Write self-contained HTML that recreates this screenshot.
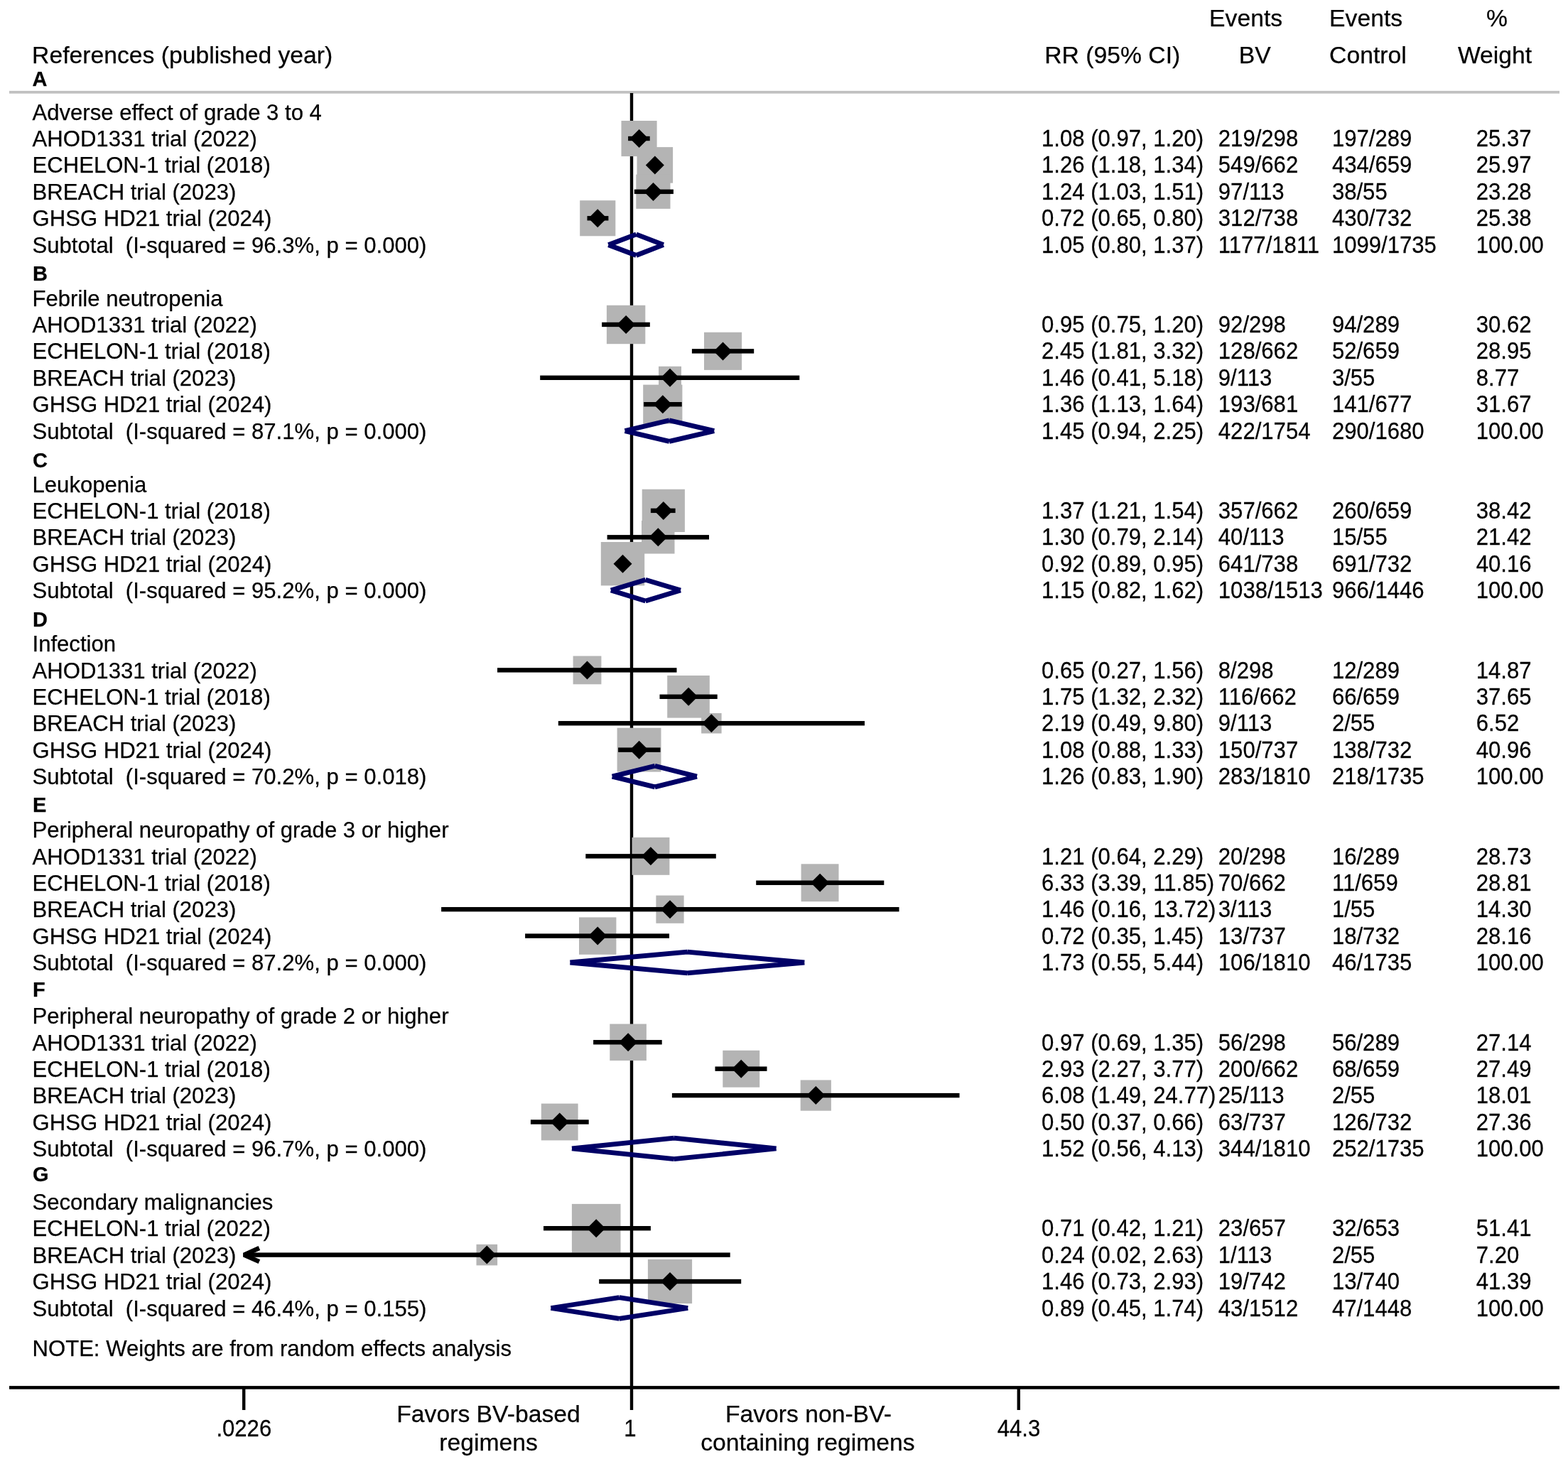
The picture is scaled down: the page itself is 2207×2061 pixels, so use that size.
<!DOCTYPE html>
<html><head><meta charset="utf-8"><title>Forest plot</title>
<style>
html,body{margin:0;padding:0;background:#fff;}
svg{display:block;}
text{font-family:"Liberation Sans",Arial,Helvetica,sans-serif;fill:#000;stroke:#000;stroke-width:0.25px;}
.T{font-size:31.1px;}
.H{font-size:33.7px;}
.L{font-size:29px;font-weight:bold;}
.X{font-size:31.1px;}
.F{font-size:33.7px;}
</style></head><body>
<svg width="2207" height="2061" viewBox="0 0 2207 2061">
<rect x="0" y="0" width="2207" height="2061" fill="#fff"/>
<text class="H" x="1702.1" y="37.0">Events</text>
<text class="H" x="1871.1" y="37.0">Events</text>
<text class="H" x="2092.1" y="37.0">%</text>
<text class="H" x="45.1" y="89.0">References (published year)</text>
<text class="H" x="1470.3" y="89.0">RR (95% CI)</text>
<text class="H" x="1743.7" y="89.0">BV</text>
<text class="H" x="1871.1" y="89.0">Control</text>
<text class="H" x="2051.9" y="89.0">Weight</text>
<text class="L" x="45.6" y="120.6">A</text>
<rect x="13" y="127.9" width="2182" height="3.8" fill="#c0c0c0"/>
<rect x="886.8" y="131" width="4.4" height="1822" fill="#000"/>
<g fill="#b4b4b4">
<rect x="874.5" y="170.0" width="50.1" height="50.1"/>
<rect x="896.5" y="207.1" width="50.6" height="50.6"/>
<rect x="895.3" y="245.7" width="48.2" height="48.2"/>
<rect x="816.2" y="282.2" width="50.1" height="50.1"/>
<rect x="853.9" y="429.8" width="54.4" height="54.4"/>
<rect x="991.0" y="467.8" width="53.1" height="53.1"/>
<rect x="927.0" y="515.8" width="32.0" height="32.0"/>
<rect x="905.2" y="541.6" width="55.2" height="55.2"/>
<rect x="903.7" y="688.8" width="60.2" height="60.2"/>
<rect x="903.0" y="733.0" width="46.5" height="46.5"/>
<rect x="845.8" y="763.0" width="61.4" height="61.4"/>
<rect x="806.6" y="923.5" width="39.8" height="39.8"/>
<rect x="939.2" y="951.0" width="59.6" height="59.6"/>
<rect x="987.1" y="1004.0" width="28.5" height="28.5"/>
<rect x="868.6" y="1024.7" width="61.9" height="61.9"/>
<rect x="889.5" y="1178.9" width="52.9" height="52.9"/>
<rect x="1127.6" y="1216.3" width="52.9" height="52.9"/>
<rect x="923.4" y="1260.6" width="39.2" height="39.2"/>
<rect x="815.0" y="1291.4" width="52.4" height="52.4"/>
<rect x="858.3" y="1441.5" width="51.6" height="51.6"/>
<rect x="1017.3" y="1478.8" width="51.9" height="51.9"/>
<rect x="1126.7" y="1520.5" width="43.2" height="43.2"/>
<rect x="761.8" y="1553.6" width="51.8" height="51.8"/>
<rect x="804.9" y="1694.9" width="68.6" height="68.6"/>
<rect x="670.5" y="1751.8" width="29.6" height="29.6"/>
<rect x="911.9" y="1772.9" width="62.2" height="62.2"/>
</g>
<g fill="#000">
<rect x="884.1" y="191.82" width="30.6" height="6.4"/>
<rect x="912.3" y="229.24" width="18.3" height="6.4"/>
<rect x="892.8" y="266.66" width="55.1" height="6.4"/>
<rect x="826.5" y="304.08" width="29.9" height="6.4"/>
<rect x="847.1" y="453.75" width="67.7" height="6.4"/>
<rect x="973.9" y="491.17" width="87.3" height="6.4"/>
<rect x="760.2" y="528.59" width="365.1" height="6.4"/>
<rect x="906.1" y="566.01" width="53.6" height="6.4"/>
<rect x="915.9" y="715.68" width="34.7" height="6.4"/>
<rect x="854.6" y="753.10" width="143.4" height="6.4"/>
<rect x="871.7" y="790.52" width="9.4" height="6.4"/>
<rect x="700.0" y="940.20" width="252.5" height="6.4"/>
<rect x="928.5" y="977.62" width="81.2" height="6.4"/>
<rect x="785.8" y="1015.04" width="431.2" height="6.4"/>
<rect x="870.1" y="1052.46" width="59.4" height="6.4"/>
<rect x="824.3" y="1202.13" width="183.5" height="6.4"/>
<rect x="1064.2" y="1239.55" width="180.1" height="6.4"/>
<rect x="621.1" y="1276.97" width="644.4" height="6.4"/>
<rect x="739.1" y="1314.39" width="202.9" height="6.4"/>
<rect x="835.1" y="1464.06" width="96.6" height="6.4"/>
<rect x="1006.5" y="1501.48" width="73.0" height="6.4"/>
<rect x="945.9" y="1538.90" width="404.6" height="6.4"/>
<rect x="746.9" y="1576.32" width="81.8" height="6.4"/>
<rect x="765.0" y="1726.00" width="150.9" height="6.4"/>
<rect x="345.0" y="1763.42" width="682.7" height="6.4"/>
<rect x="843.2" y="1800.84" width="200.0" height="6.4"/>
<polygon points="899.6,182.0 912.6,195.0 899.6,208.0 886.6,195.0"/>
<polygon points="921.8,219.4 934.8,232.4 921.8,245.4 908.8,232.4"/>
<polygon points="919.5,256.9 932.5,269.9 919.5,282.9 906.5,269.9"/>
<polygon points="841.2,294.3 854.2,307.3 841.2,320.3 828.2,307.3"/>
<polygon points="881.1,444.0 894.1,457.0 881.1,470.0 868.1,457.0"/>
<polygon points="1017.5,481.4 1030.5,494.4 1017.5,507.4 1004.5,494.4"/>
<polygon points="943.0,518.8 956.0,531.8 943.0,544.8 930.0,531.8"/>
<polygon points="932.8,556.2 945.8,569.2 932.8,582.2 919.8,569.2"/>
<polygon points="933.8,705.9 946.8,718.9 933.8,731.9 920.8,718.9"/>
<polygon points="926.3,743.3 939.3,756.3 926.3,769.3 913.3,756.3"/>
<polygon points="876.5,780.7 889.5,793.7 876.5,806.7 863.5,793.7"/>
<polygon points="826.5,930.4 839.5,943.4 826.5,956.4 813.5,943.4"/>
<polygon points="969.1,967.8 982.1,980.8 969.1,993.8 956.1,980.8"/>
<polygon points="1001.3,1005.2 1014.3,1018.2 1001.3,1031.2 988.3,1018.2"/>
<polygon points="899.6,1042.7 912.6,1055.7 899.6,1068.7 886.6,1055.7"/>
<polygon points="915.9,1192.3 928.9,1205.3 915.9,1218.3 902.9,1205.3"/>
<polygon points="1154.1,1229.8 1167.1,1242.8 1154.1,1255.8 1141.1,1242.8"/>
<polygon points="943.0,1267.2 956.0,1280.2 943.0,1293.2 930.0,1280.2"/>
<polygon points="841.2,1304.6 854.2,1317.6 841.2,1330.6 828.2,1317.6"/>
<polygon points="884.1,1454.3 897.1,1467.3 884.1,1480.3 871.1,1467.3"/>
<polygon points="1043.2,1491.7 1056.2,1504.7 1043.2,1517.7 1030.2,1504.7"/>
<polygon points="1148.3,1529.1 1161.3,1542.1 1148.3,1555.1 1135.3,1542.1"/>
<polygon points="787.7,1566.5 800.7,1579.5 787.7,1592.5 774.7,1579.5"/>
<polygon points="839.2,1716.2 852.2,1729.2 839.2,1742.2 826.2,1729.2"/>
<polygon points="685.3,1753.6 698.3,1766.6 685.3,1779.6 672.3,1766.6"/>
<polygon points="943.0,1791.0 956.0,1804.0 943.0,1817.0 930.0,1804.0"/>
</g>
<path d="M 364.9 1757.0 L 343.4 1766.6 L 364.9 1776.2" fill="none" stroke="#000" stroke-width="6.4" stroke-linejoin="bevel"/>
<g fill="none" stroke="#000066" stroke-width="6.8" stroke-linecap="butt">
<path d="M856.4 344.7L895.5 329.9M895.5 329.9L933.8 344.7M856.4 344.7L895.5 359.5M895.5 359.5L933.8 344.7"/>
<path d="M879.6 606.6L942.0 591.8M942.0 591.8L1005.2 606.6M879.6 606.6L942.0 621.4M942.0 621.4L1005.2 606.6"/>
<path d="M859.9 831.1L908.6 816.3M908.6 816.3L957.9 831.1M859.9 831.1L908.6 845.9M908.6 845.9L957.9 831.1"/>
<path d="M861.7 1093.1L921.8 1078.3M921.8 1078.3L980.9 1093.1M861.7 1093.1L921.8 1107.9M921.8 1107.9L980.9 1093.1"/>
<path d="M802.4 1355.0L967.4 1340.2M967.4 1340.2L1132.3 1355.0M802.4 1355.0L967.4 1369.8M967.4 1369.8L1132.3 1355.0"/>
<path d="M805.0 1616.9L948.8 1602.1M948.8 1602.1L1092.6 1616.9M805.0 1616.9L948.8 1631.7M948.8 1631.7L1092.6 1616.9"/>
<path d="M775.4 1841.5L871.7 1826.7M871.7 1826.7L968.2 1841.5M775.4 1841.5L871.7 1856.3M871.7 1856.3L968.2 1841.5"/>
</g>
<rect x="13" y="1951.1" width="2182" height="4.6" fill="#000"/>
<rect x="341.0" y="1953" width="4.4" height="32" fill="#000"/>
<rect x="886.8" y="1953" width="4.4" height="32" fill="#000"/>
<rect x="1431.6" y="1953" width="4.4" height="32" fill="#000"/>
<text class="X" transform="translate(343.3 2021.7) scale(1 1.04)" text-anchor="middle">.0226</text>
<text class="X" transform="translate(887 2021.7) scale(1 1.04)" text-anchor="middle">1</text>
<text class="X" transform="translate(1434 2021.7) scale(1 1.04)" text-anchor="middle">44.3</text>
<text class="F" x="687.5" y="2002" text-anchor="middle">Favors BV-based</text>
<text class="F" x="687.5" y="2042.2" text-anchor="middle">regimens</text>
<text class="F" x="1137.9" y="2001.5" text-anchor="middle">Favors non-BV-</text>
<text class="F" x="1136.9" y="2041.7" text-anchor="middle">containing regimens</text>
<text class="T" x="45.5" y="168.6">Adverse effect of grade 3 to 4</text>
<text class="T" x="45.5" y="206.0">AHOD1331 trial (2022)</text>
<text class="T" transform="translate(1466.0 206.0) scale(1 1.04)">1.08 (0.97, 1.20)</text>
<text class="T" transform="translate(1714.8 206.0) scale(1 1.04)">219/298</text>
<text class="T" transform="translate(1874.9 206.0) scale(1 1.04)">197/289</text>
<text class="T" transform="translate(2077.7 206.0) scale(1 1.04)">25.37</text>
<text class="T" x="45.5" y="243.4">ECHELON-1 trial (2018)</text>
<text class="T" transform="translate(1466.0 243.4) scale(1 1.04)">1.26 (1.18, 1.34)</text>
<text class="T" transform="translate(1714.8 243.4) scale(1 1.04)">549/662</text>
<text class="T" transform="translate(1874.9 243.4) scale(1 1.04)">434/659</text>
<text class="T" transform="translate(2077.7 243.4) scale(1 1.04)">25.97</text>
<text class="T" x="45.5" y="280.9">BREACH trial (2023)</text>
<text class="T" transform="translate(1466.0 280.9) scale(1 1.04)">1.24 (1.03, 1.51)</text>
<text class="T" transform="translate(1714.8 280.9) scale(1 1.04)">97/113</text>
<text class="T" transform="translate(1874.9 280.9) scale(1 1.04)">38/55</text>
<text class="T" transform="translate(2077.7 280.9) scale(1 1.04)">23.28</text>
<text class="T" x="45.5" y="318.3">GHSG HD21 trial (2024)</text>
<text class="T" transform="translate(1466.0 318.3) scale(1 1.04)">0.72 (0.65, 0.80)</text>
<text class="T" transform="translate(1714.8 318.3) scale(1 1.04)">312/738</text>
<text class="T" transform="translate(1874.9 318.3) scale(1 1.04)">430/732</text>
<text class="T" transform="translate(2077.7 318.3) scale(1 1.04)">25.38</text>
<text class="T" x="45.5" y="355.7">Subtotal&#160; (I-squared = 96.3%, p = 0.000)</text>
<text class="T" transform="translate(1466.0 355.7) scale(1 1.04)">1.05 (0.80, 1.37)</text>
<text class="T" transform="translate(1714.8 355.7) scale(1 1.04)">1177/1811</text>
<text class="T" transform="translate(1874.9 355.7) scale(1 1.04)">1099/1735</text>
<text class="T" transform="translate(2077.7 355.7) scale(1 1.04)">100.00</text>
<text class="L" x="46.0" y="395.4">B</text>
<text class="T" x="45.5" y="430.6">Febrile neutropenia</text>
<text class="T" x="45.5" y="468.0">AHOD1331 trial (2022)</text>
<text class="T" transform="translate(1466.0 468.0) scale(1 1.04)">0.95 (0.75, 1.20)</text>
<text class="T" transform="translate(1714.8 468.0) scale(1 1.04)">92/298</text>
<text class="T" transform="translate(1874.9 468.0) scale(1 1.04)">94/289</text>
<text class="T" transform="translate(2077.7 468.0) scale(1 1.04)">30.62</text>
<text class="T" x="45.5" y="505.4">ECHELON-1 trial (2018)</text>
<text class="T" transform="translate(1466.0 505.4) scale(1 1.04)">2.45 (1.81, 3.32)</text>
<text class="T" transform="translate(1714.8 505.4) scale(1 1.04)">128/662</text>
<text class="T" transform="translate(1874.9 505.4) scale(1 1.04)">52/659</text>
<text class="T" transform="translate(2077.7 505.4) scale(1 1.04)">28.95</text>
<text class="T" x="45.5" y="542.9">BREACH trial (2023)</text>
<text class="T" transform="translate(1466.0 542.9) scale(1 1.04)">1.46 (0.41, 5.18)</text>
<text class="T" transform="translate(1714.8 542.9) scale(1 1.04)">9/113</text>
<text class="T" transform="translate(1874.9 542.9) scale(1 1.04)">3/55</text>
<text class="T" transform="translate(2077.7 542.9) scale(1 1.04)">8.77</text>
<text class="T" x="45.5" y="580.3">GHSG HD21 trial (2024)</text>
<text class="T" transform="translate(1466.0 580.3) scale(1 1.04)">1.36 (1.13, 1.64)</text>
<text class="T" transform="translate(1714.8 580.3) scale(1 1.04)">193/681</text>
<text class="T" transform="translate(1874.9 580.3) scale(1 1.04)">141/677</text>
<text class="T" transform="translate(2077.7 580.3) scale(1 1.04)">31.67</text>
<text class="T" x="45.5" y="617.7">Subtotal&#160; (I-squared = 87.1%, p = 0.000)</text>
<text class="T" transform="translate(1466.0 617.7) scale(1 1.04)">1.45 (0.94, 2.25)</text>
<text class="T" transform="translate(1714.8 617.7) scale(1 1.04)">422/1754</text>
<text class="T" transform="translate(1874.9 617.7) scale(1 1.04)">290/1680</text>
<text class="T" transform="translate(2077.7 617.7) scale(1 1.04)">100.00</text>
<text class="L" x="46.0" y="657.8">C</text>
<text class="T" x="45.5" y="692.5">Leukopenia</text>
<text class="T" x="45.5" y="730.0">ECHELON-1 trial (2018)</text>
<text class="T" transform="translate(1466.0 730.0) scale(1 1.04)">1.37 (1.21, 1.54)</text>
<text class="T" transform="translate(1714.8 730.0) scale(1 1.04)">357/662</text>
<text class="T" transform="translate(1874.9 730.0) scale(1 1.04)">260/659</text>
<text class="T" transform="translate(2077.7 730.0) scale(1 1.04)">38.42</text>
<text class="T" x="45.5" y="767.4">BREACH trial (2023)</text>
<text class="T" transform="translate(1466.0 767.4) scale(1 1.04)">1.30 (0.79, 2.14)</text>
<text class="T" transform="translate(1714.8 767.4) scale(1 1.04)">40/113</text>
<text class="T" transform="translate(1874.9 767.4) scale(1 1.04)">15/55</text>
<text class="T" transform="translate(2077.7 767.4) scale(1 1.04)">21.42</text>
<text class="T" x="45.5" y="804.8">GHSG HD21 trial (2024)</text>
<text class="T" transform="translate(1466.0 804.8) scale(1 1.04)">0.92 (0.89, 0.95)</text>
<text class="T" transform="translate(1714.8 804.8) scale(1 1.04)">641/738</text>
<text class="T" transform="translate(1874.9 804.8) scale(1 1.04)">691/732</text>
<text class="T" transform="translate(2077.7 804.8) scale(1 1.04)">40.16</text>
<text class="T" x="45.5" y="842.2">Subtotal&#160; (I-squared = 95.2%, p = 0.000)</text>
<text class="T" transform="translate(1466.0 842.2) scale(1 1.04)">1.15 (0.82, 1.62)</text>
<text class="T" transform="translate(1714.8 842.2) scale(1 1.04)">1038/1513</text>
<text class="T" transform="translate(1874.9 842.2) scale(1 1.04)">966/1446</text>
<text class="T" transform="translate(2077.7 842.2) scale(1 1.04)">100.00</text>
<text class="L" x="46.0" y="881.5">D</text>
<text class="T" x="45.5" y="917.1">Infection</text>
<text class="T" x="45.5" y="954.5">AHOD1331 trial (2022)</text>
<text class="T" transform="translate(1466.0 954.5) scale(1 1.04)">0.65 (0.27, 1.56)</text>
<text class="T" transform="translate(1714.8 954.5) scale(1 1.04)">8/298</text>
<text class="T" transform="translate(1874.9 954.5) scale(1 1.04)">12/289</text>
<text class="T" transform="translate(2077.7 954.5) scale(1 1.04)">14.87</text>
<text class="T" x="45.5" y="991.9">ECHELON-1 trial (2018)</text>
<text class="T" transform="translate(1466.0 991.9) scale(1 1.04)">1.75 (1.32, 2.32)</text>
<text class="T" transform="translate(1714.8 991.9) scale(1 1.04)">116/662</text>
<text class="T" transform="translate(1874.9 991.9) scale(1 1.04)">66/659</text>
<text class="T" transform="translate(2077.7 991.9) scale(1 1.04)">37.65</text>
<text class="T" x="45.5" y="1029.4">BREACH trial (2023)</text>
<text class="T" transform="translate(1466.0 1029.4) scale(1 1.04)">2.19 (0.49, 9.80)</text>
<text class="T" transform="translate(1714.8 1029.4) scale(1 1.04)">9/113</text>
<text class="T" transform="translate(1874.9 1029.4) scale(1 1.04)">2/55</text>
<text class="T" transform="translate(2077.7 1029.4) scale(1 1.04)">6.52</text>
<text class="T" x="45.5" y="1066.8">GHSG HD21 trial (2024)</text>
<text class="T" transform="translate(1466.0 1066.8) scale(1 1.04)">1.08 (0.88, 1.33)</text>
<text class="T" transform="translate(1714.8 1066.8) scale(1 1.04)">150/737</text>
<text class="T" transform="translate(1874.9 1066.8) scale(1 1.04)">138/732</text>
<text class="T" transform="translate(2077.7 1066.8) scale(1 1.04)">40.96</text>
<text class="T" x="45.5" y="1104.2">Subtotal&#160; (I-squared = 70.2%, p = 0.018)</text>
<text class="T" transform="translate(1466.0 1104.2) scale(1 1.04)">1.26 (0.83, 1.90)</text>
<text class="T" transform="translate(1714.8 1104.2) scale(1 1.04)">283/1810</text>
<text class="T" transform="translate(1874.9 1104.2) scale(1 1.04)">218/1735</text>
<text class="T" transform="translate(2077.7 1104.2) scale(1 1.04)">100.00</text>
<text class="L" x="46.0" y="1142.5">E</text>
<text class="T" x="45.5" y="1179.1">Peripheral neuropathy of grade 3 or higher</text>
<text class="T" x="45.5" y="1216.5">AHOD1331 trial (2022)</text>
<text class="T" transform="translate(1466.0 1216.5) scale(1 1.04)">1.21 (0.64, 2.29)</text>
<text class="T" transform="translate(1714.8 1216.5) scale(1 1.04)">20/298</text>
<text class="T" transform="translate(1874.9 1216.5) scale(1 1.04)">16/289</text>
<text class="T" transform="translate(2077.7 1216.5) scale(1 1.04)">28.73</text>
<text class="T" x="45.5" y="1253.9">ECHELON-1 trial (2018)</text>
<text class="T" transform="translate(1466.0 1253.9) scale(1 1.04)">6.33 (3.39, 11.85)</text>
<text class="T" transform="translate(1714.8 1253.9) scale(1 1.04)">70/662</text>
<text class="T" transform="translate(1874.9 1253.9) scale(1 1.04)">11/659</text>
<text class="T" transform="translate(2077.7 1253.9) scale(1 1.04)">28.81</text>
<text class="T" x="45.5" y="1291.3">BREACH trial (2023)</text>
<text class="T" transform="translate(1466.0 1291.3) scale(1 1.04)">1.46 (0.16, 13.72)</text>
<text class="T" transform="translate(1714.8 1291.3) scale(1 1.04)">3/113</text>
<text class="T" transform="translate(1874.9 1291.3) scale(1 1.04)">1/55</text>
<text class="T" transform="translate(2077.7 1291.3) scale(1 1.04)">14.30</text>
<text class="T" x="45.5" y="1328.8">GHSG HD21 trial (2024)</text>
<text class="T" transform="translate(1466.0 1328.8) scale(1 1.04)">0.72 (0.35, 1.45)</text>
<text class="T" transform="translate(1714.8 1328.8) scale(1 1.04)">13/737</text>
<text class="T" transform="translate(1874.9 1328.8) scale(1 1.04)">18/732</text>
<text class="T" transform="translate(2077.7 1328.8) scale(1 1.04)">28.16</text>
<text class="T" x="45.5" y="1366.2">Subtotal&#160; (I-squared = 87.2%, p = 0.000)</text>
<text class="T" transform="translate(1466.0 1366.2) scale(1 1.04)">1.73 (0.55, 5.44)</text>
<text class="T" transform="translate(1714.8 1366.2) scale(1 1.04)">106/1810</text>
<text class="T" transform="translate(1874.9 1366.2) scale(1 1.04)">46/1735</text>
<text class="T" transform="translate(2077.7 1366.2) scale(1 1.04)">100.00</text>
<text class="L" x="46.0" y="1403.4">F</text>
<text class="T" x="45.5" y="1441.0">Peripheral neuropathy of grade 2 or higher</text>
<text class="T" x="45.5" y="1478.5">AHOD1331 trial (2022)</text>
<text class="T" transform="translate(1466.0 1478.5) scale(1 1.04)">0.97 (0.69, 1.35)</text>
<text class="T" transform="translate(1714.8 1478.5) scale(1 1.04)">56/298</text>
<text class="T" transform="translate(1874.9 1478.5) scale(1 1.04)">56/289</text>
<text class="T" transform="translate(2077.7 1478.5) scale(1 1.04)">27.14</text>
<text class="T" x="45.5" y="1515.9">ECHELON-1 trial (2018)</text>
<text class="T" transform="translate(1466.0 1515.9) scale(1 1.04)">2.93 (2.27, 3.77)</text>
<text class="T" transform="translate(1714.8 1515.9) scale(1 1.04)">200/662</text>
<text class="T" transform="translate(1874.9 1515.9) scale(1 1.04)">68/659</text>
<text class="T" transform="translate(2077.7 1515.9) scale(1 1.04)">27.49</text>
<text class="T" x="45.5" y="1553.3">BREACH trial (2023)</text>
<text class="T" transform="translate(1466.0 1553.3) scale(1 1.04)">6.08 (1.49, 24.77)</text>
<text class="T" transform="translate(1714.8 1553.3) scale(1 1.04)">25/113</text>
<text class="T" transform="translate(1874.9 1553.3) scale(1 1.04)">2/55</text>
<text class="T" transform="translate(2077.7 1553.3) scale(1 1.04)">18.01</text>
<text class="T" x="45.5" y="1590.7">GHSG HD21 trial (2024)</text>
<text class="T" transform="translate(1466.0 1590.7) scale(1 1.04)">0.50 (0.37, 0.66)</text>
<text class="T" transform="translate(1714.8 1590.7) scale(1 1.04)">63/737</text>
<text class="T" transform="translate(1874.9 1590.7) scale(1 1.04)">126/732</text>
<text class="T" transform="translate(2077.7 1590.7) scale(1 1.04)">27.36</text>
<text class="T" x="45.5" y="1628.2">Subtotal&#160; (I-squared = 96.7%, p = 0.000)</text>
<text class="T" transform="translate(1466.0 1628.2) scale(1 1.04)">1.52 (0.56, 4.13)</text>
<text class="T" transform="translate(1714.8 1628.2) scale(1 1.04)">344/1810</text>
<text class="T" transform="translate(1874.9 1628.2) scale(1 1.04)">252/1735</text>
<text class="T" transform="translate(2077.7 1628.2) scale(1 1.04)">100.00</text>
<text class="L" x="46.0" y="1663.2">G</text>
<text class="T" x="45.5" y="1703.0">Secondary malignancies</text>
<text class="T" x="45.5" y="1740.4">ECHELON-1 trial (2022)</text>
<text class="T" transform="translate(1466.0 1740.4) scale(1 1.04)">0.71 (0.42, 1.21)</text>
<text class="T" transform="translate(1714.8 1740.4) scale(1 1.04)">23/657</text>
<text class="T" transform="translate(1874.9 1740.4) scale(1 1.04)">32/653</text>
<text class="T" transform="translate(2077.7 1740.4) scale(1 1.04)">51.41</text>
<text class="T" x="45.5" y="1777.9">BREACH trial (2023)</text>
<text class="T" transform="translate(1466.0 1777.9) scale(1 1.04)">0.24 (0.02, 2.63)</text>
<text class="T" transform="translate(1714.8 1777.9) scale(1 1.04)">1/113</text>
<text class="T" transform="translate(1874.9 1777.9) scale(1 1.04)">2/55</text>
<text class="T" transform="translate(2077.7 1777.9) scale(1 1.04)">7.20</text>
<text class="T" x="45.5" y="1815.3">GHSG HD21 trial (2024)</text>
<text class="T" transform="translate(1466.0 1815.3) scale(1 1.04)">1.46 (0.73, 2.93)</text>
<text class="T" transform="translate(1714.8 1815.3) scale(1 1.04)">19/742</text>
<text class="T" transform="translate(1874.9 1815.3) scale(1 1.04)">13/740</text>
<text class="T" transform="translate(2077.7 1815.3) scale(1 1.04)">41.39</text>
<text class="T" x="45.5" y="1852.7">Subtotal&#160; (I-squared = 46.4%, p = 0.155)</text>
<text class="T" transform="translate(1466.0 1852.7) scale(1 1.04)">0.89 (0.45, 1.74)</text>
<text class="T" transform="translate(1714.8 1852.7) scale(1 1.04)">43/1512</text>
<text class="T" transform="translate(1874.9 1852.7) scale(1 1.04)">47/1448</text>
<text class="T" transform="translate(2077.7 1852.7) scale(1 1.04)">100.00</text>
<text class="T" x="45.5" y="1908.6">NOTE: Weights are from random effects analysis</text>
</svg>
</body></html>
